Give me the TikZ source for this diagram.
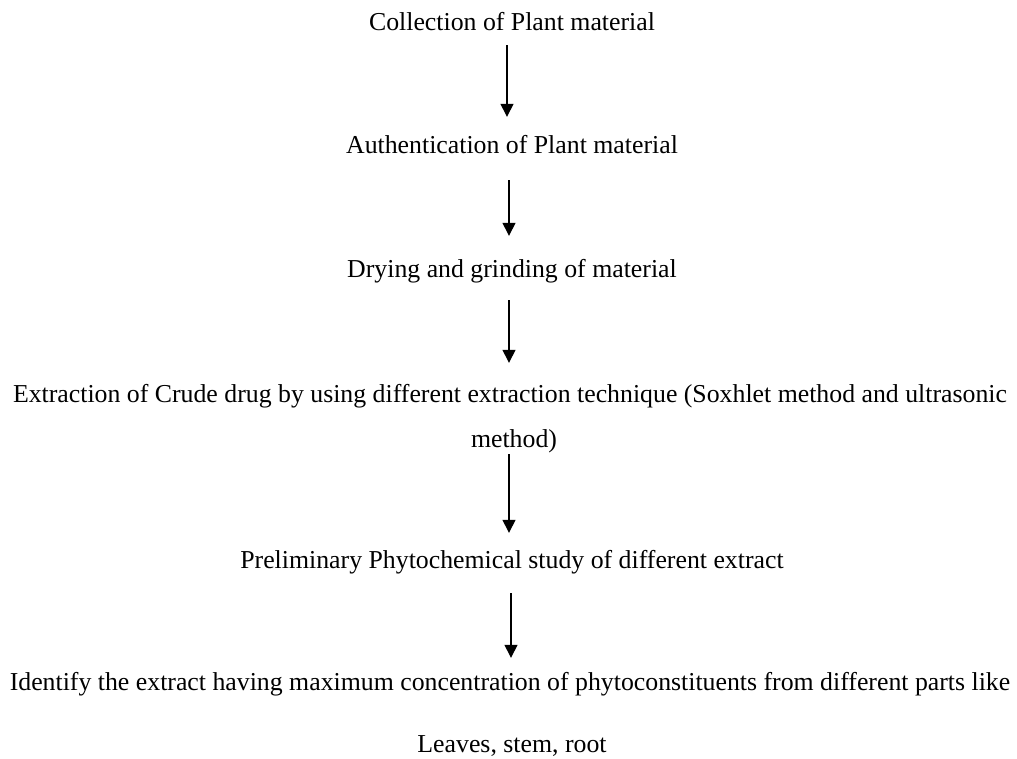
\documentclass[tikz,border=0pt]{standalone}
\usepackage{fontspec}
\setmainfont{Liberation Serif}
\usetikzlibrary{arrows.meta}

\begin{document}
\begin{tikzpicture}[
  x=1pt, y=-1pt,
  stage/.style={inner sep=0pt, anchor=base, text height=18pt, text depth=6pt,
    font=\fontsize{25.8}{30}\selectfont},
  flow/.style={line width=1.4pt, -{Triangle[width=13pt, length=13pt]}}
]
  \useasboundingbox (0,0) rectangle (1017,758);

  % Steps
  \node[stage] (collect) at (512,30) {Collection of Plant material};
  \node[stage] (auth) at (512,153) {Authentication of Plant material};
  \node[stage] (dry) at (512,277) {Drying and grinding of material};
  \node[stage] (extract) at (510,402) {Extraction of Crude drug by using different extraction technique (Soxhlet method and ultrasonic};
  \node[stage] (extract2) at (514,447) {method)};
  \node[stage] (prelim) at (512,568) {Preliminary Phytochemical study of different extract};
  \node[stage] (ident) at (510,690) {Identify the extract having maximum concentration of phytoconstituents from different parts like};
  \node[stage] (parts) at (512,752) {Leaves, stem, root};

  % Arrows
  \draw[flow, shorten <=9pt, shorten >=18pt] ([xshift=-5pt]collect.south) -- ([xshift=-5pt]collect.south |- auth.north);
  \draw[flow, shorten <=21pt, shorten >=23pt] ([xshift=-3pt]auth.south) -- ([xshift=-3pt]auth.south |- dry.north);
  \draw[flow, shorten <=17pt, shorten >=21pt] ([xshift=-3pt]dry.south) -- ([xshift=-3pt]dry.south |- extract.north);
  \draw[flow, shorten <=1pt, shorten >=17pt] ([xshift=-1pt]extract.south |- extract2.south) -- ([xshift=-1pt]extract.south |- prelim.north);
  \draw[flow, shorten <=19pt, shorten >=14pt] ([xshift=-1pt]prelim.south) -- ([xshift=-1pt]prelim.south |- ident.north);

\end{tikzpicture}
\end{document}
